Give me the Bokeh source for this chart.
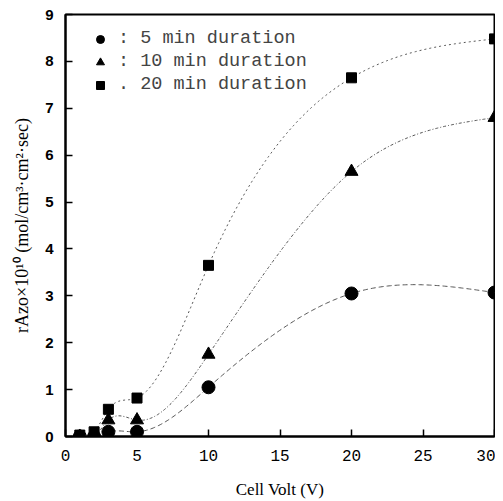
import numpy as np
from bokeh.plotting import figure
from bokeh.models import Legend, LegendItem, Range1d, FixedTicker
from bokeh.embed import file_html
from bokeh.resources import INLINE

volts = [1, 2, 3, 5, 10, 20, 30]
r5 = [0.0, 0.0, 0.1, 0.1, 1.05, 3.05, 3.07]
r10 = [0.0, 0.0, 0.35, 0.35, 1.75, 5.65, 6.8]
r20 = [0.03, 0.1, 0.58, 0.82, 3.65, 7.65, 8.48]
labels = [": 5 min duration", ": 10 min duration", ". 20 min duration"]
x_ticks = [0, 5, 10, 15, 20, 25, 30]
y_ticks = list(range(0, 10))


def natural_spline(x, y, n=300):
    x = np.asarray(x, float)
    y = np.asarray(y, float)
    m = len(x)
    h = np.diff(x)
    A = np.zeros((m, m))
    b = np.zeros(m)
    A[0, 0] = 1
    A[-1, -1] = 1
    for i in range(1, m - 1):
        A[i, i - 1] = h[i - 1]
        A[i, i] = 2 * (h[i - 1] + h[i])
        A[i, i + 1] = h[i]
        b[i] = 3 * ((y[i + 1] - y[i]) / h[i] - (y[i] - y[i - 1]) / h[i - 1])
    c = np.linalg.solve(A, b)
    xs = np.linspace(x[0], x[-1], n)
    ys = np.empty_like(xs)
    for k, xv in enumerate(xs):
        i = min(np.searchsorted(x, xv, side="right") - 1, m - 2)
        dx = xv - x[i]
        bi = (y[i + 1] - y[i]) / h[i] - h[i] * (2 * c[i] + c[i + 1]) / 3
        di = (c[i + 1] - c[i]) / (3 * h[i])
        ys[k] = y[i] + bi * dx + c[i] * dx ** 2 + di * dx ** 3
    return xs, ys


p = figure(width=495, height=493, output_backend="svg", toolbar_location=None,
           frame_width=429, frame_height=422,
           min_border_left=65, min_border_top=14, min_border_bottom=50, min_border_right=1,
           x_range=Range1d(0, 30), y_range=Range1d(0, 9))
p.grid.visible = False
p.outline_line_color = "black"
p.outline_line_width = 2
p.background_fill_color = "white"
p.border_fill_color = "white"

for ax in (p.xaxis[0], p.yaxis[0]):
    ax.axis_line_width = 2
    ax.axis_line_color = "black"
    ax.major_tick_in = 7
    ax.major_tick_out = 0
    ax.minor_tick_line_color = None
    ax.major_tick_line_width = 1.5
    ax.major_label_text_color = "black"
    ax.axis_label_text_color = "black"
    ax.axis_label_text_font_style = "normal"

p.xaxis.ticker = FixedTicker(ticks=x_ticks)
p.yaxis.ticker = FixedTicker(ticks=y_ticks)
p.xaxis.major_label_text_font = "Liberation Mono"
p.xaxis.major_label_text_font_size = "16px"
p.xaxis.major_label_standoff = 13
p.yaxis.major_label_text_font = "Liberation Sans"
p.yaxis.major_label_text_font_size = "15px"
p.yaxis.major_label_text_font_style = "bold"
p.yaxis.major_label_standoff = 12
p.xaxis.axis_label = "Cell Volt (V)"
p.xaxis.axis_label_text_font = "Liberation Serif"
p.xaxis.axis_label_text_font_size = "17px"
p.xaxis.axis_label_standoff = 16
p.yaxis.axis_label = "rAzo×10¹⁰ (mol/cm³·cm²·sec)"
p.yaxis.axis_label_text_font = "Liberation Serif"
p.yaxis.axis_label_text_font_size = "18px"
p.yaxis.axis_label_standoff = 10

series = [(r5, "circle", 13, "5 3"), (r10, "triangle", 13, "3 2 1 2"), (r20, "square", 10, "2 3")]
items = []
for (vals, marker, size, dash), lab in zip(series, labels):
    xs, ys = natural_spline(volts, vals)
    p.line(xs, ys, line_color="#555555", line_width=1, line_dash=dash)
    r = p.scatter(volts, vals, marker=marker, size=size, fill_color="black", line_color="black")
    items.append(LegendItem(label=lab, renderers=[r]))

legend = Legend(items=items, location=(25, 341), padding=0, margin=0, spacing=2,
                glyph_width=20, glyph_height=20, label_height=20, label_standoff=8,
                label_text_font="Liberation Mono", label_text_font_size="18.5px",
                background_fill_alpha=0, border_line_color=None)
p.add_layout(legend)

open("out.html", "w").write(file_html(p, INLINE))
